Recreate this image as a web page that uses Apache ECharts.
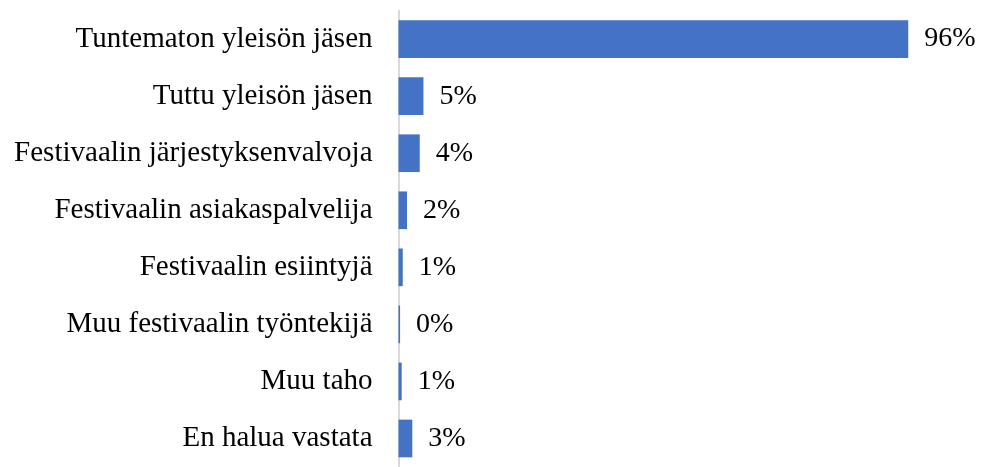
<!DOCTYPE html>
<html lang="fi">
<head>
  <meta charset="UTF-8" />
  <title>Kaavio</title>
  <script src="https://cdn.jsdelivr.net/npm/echarts@6/dist/echarts.min.js"></script>
  <style>
    body { margin: 0; background: #fff; }
    #chart { width: 981px; height: 467px; }
  </style>
</head>
<body>
  <div id="chart"></div>
  <script>
    const categories = [
      'Tuntematon yleisön jäsen',
      'Tuttu yleisön jäsen',
      'Festivaalin järjestyksenvalvoja',
      'Festivaalin asiakaspalvelija',
      'Festivaalin esiintyjä',
      'Muu festivaalin työntekijä',
      'Muu taho',
      'En halua vastata'
    ];
    const values = [96.0, 4.7, 4.0, 1.6, 0.8, 0.3, 0.6, 2.6];

    const chart = echarts.init(document.getElementById('chart'));
    chart.setOption({
      animation: false,
      grid: { left: 398.5, top: 10.6, width: 531, height: 463 },
      xAxis: {
        type: 'value', min: 0, max: 100,
        show: false
      },
      yAxis: {
        type: 'category',
        data: categories,
        inverse: true,
        axisTick: { show: false },
        axisLine: { lineStyle: { color: '#d9d9d9', width: 2 } },
        axisLabel: {
          margin: 26,
          color: '#000',
          fontFamily: 'Liberation Serif',
          fontSize: 29
        }
      },
      series: [{
        type: 'bar',
        data: values,
        barWidth: '66%',
        itemStyle: { color: '#4472C4' },
        label: {
          show: true,
          position: 'right',
          distance: 16,
          color: '#000',
          fontFamily: 'Liberation Serif',
          fontSize: 28,
          formatter: p => Math.round(p.value) + '%'
        }
      }]
    });
  </script>
</body>
</html>
